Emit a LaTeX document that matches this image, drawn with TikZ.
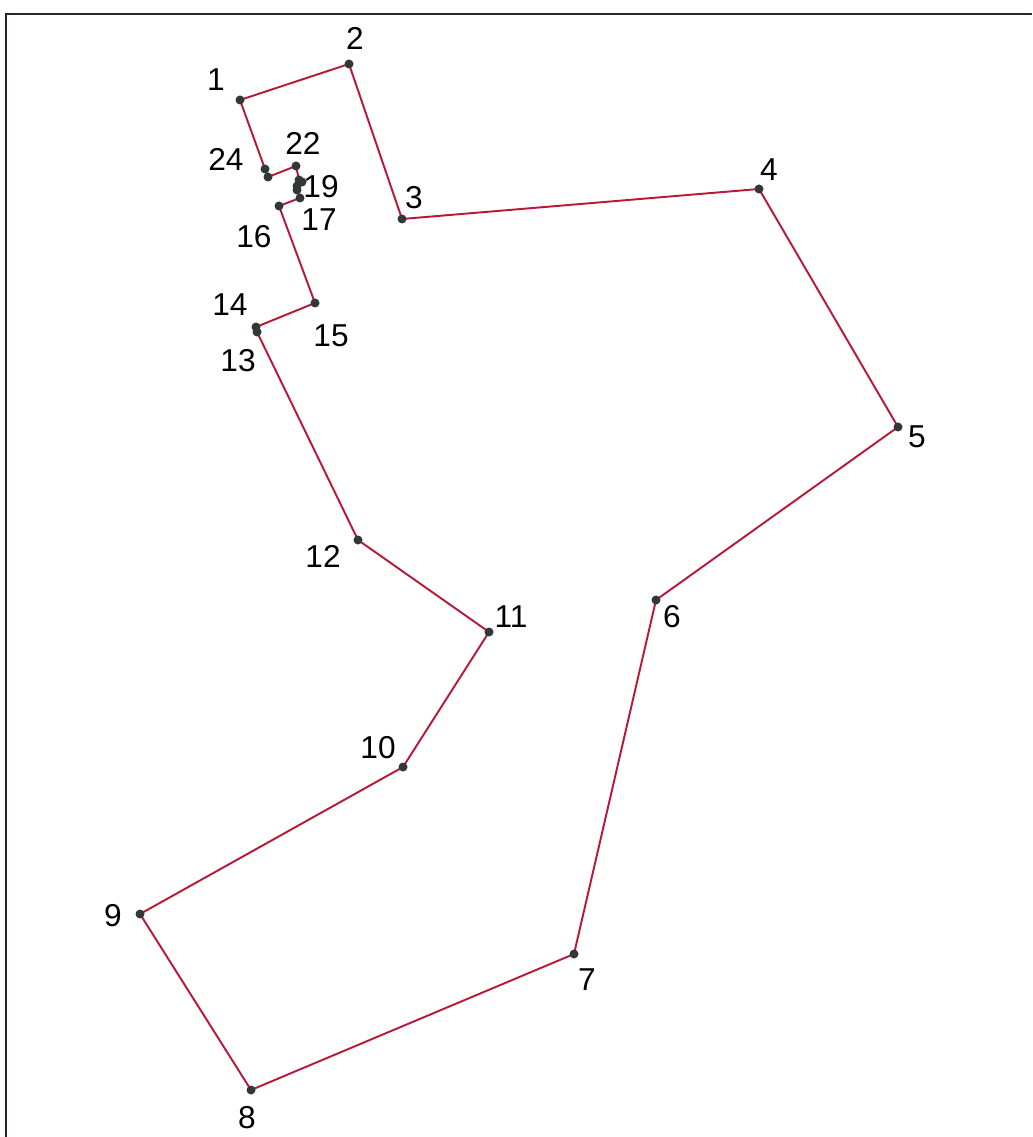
\documentclass[tikz,border=0pt]{standalone}
\usepackage{fontspec}
\setmainfont{Liberation Sans}
\definecolor{tourred}{RGB}{185,25,55}
\definecolor{stopgrey}{RGB}{50,55,55}
\definecolor{framedark}{RGB}{30,40,45}

\begin{document}
\begin{tikzpicture}[x=0.01cm, y=-0.01cm,
    every node/.style={font=\fontsize{9}{11}\selectfont},
    stopdot/.style={circle, fill=stopgrey, inner sep=0pt, minimum size=0.09cm},
    leg/.style={draw=tourred, line width=0.55pt}]
  \useasboundingbox (0,0) rectangle (1032,1137);
  % page frame (top and left edge only)
  \draw[framedark, line width=0.7pt] (6,1137) -- (6,14) -- (1032,14);

  % stops of the tour
  \foreach \n/\x/\y in {1/240/100, 2/349/64, 3/402/219, 4/759/189, 5/898/427,
      6/656/600, 7/574/954, 8/251/1090, 9/140/914, 10/403/767, 11/489/632,
      12/358/540, 13/257/332, 14/256/327, 15/315/303, 16/279/206, 17/300/198,
      18/297/190, 19/302/182, 20/297/186, 21/299/180, 22/296/166, 23/268/177,
      24/265/169}
    \coordinate (p\n) at (\x,\y);

  % tour
  \draw[leg] (p1) \foreach \n in {2,...,24} { -- (p\n)} -- cycle;

  \foreach \n in {1,...,24}
    \node[stopdot] (d\n) at (p\n) {};

  % labels
  \foreach \n/\x/\y in {1/216/80, 2/355/38, 3/414/198, 4/769/170, 5/917/437,
      6/672/617, 7/587/980, 8/247/1118, 9/113/916, 10/378/748, 11/511/617,
      12/323/556, 13/238/361, 14/230/305, 15/331/336, 16/254/237, 17/319/220,
      19/321/187, 22/303/143, 24/226/159}
    \node (l\n) at (\x,\y) {\n};
\end{tikzpicture}
\end{document}
